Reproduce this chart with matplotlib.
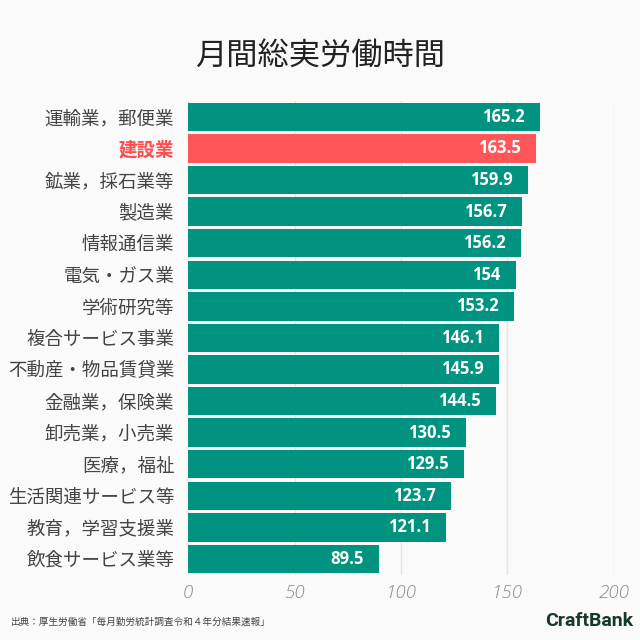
import matplotlib
matplotlib.use("Agg")
import matplotlib.pyplot as plt

plt.rcParams['font.family'] = ['Noto Sans CJK JP', 'DejaVu Sans']

title = "月間総実労働時間"
categories = ["運輸業，郵便業", "建設業", "鉱業，採石業等", "製造業", "情報通信業",
              "電気・ガス業", "学術研究等", "複合サービス事業", "不動産・物品賃貸業",
              "金融業，保険業", "卸売業，小売業", "医療，福祉", "生活関連サービス等",
              "教育，学習支援業", "飲食サービス業等"]
values = [165.2, 163.5, 159.9, 156.7, 156.2, 154, 153.2, 146.1, 145.9,
          144.5, 130.5, 129.5, 123.7, 121.1, 89.5]
highlight = "建設業"
xticks = [0, 50, 100, 150, 200]
source = "出典：厚生労働省「毎月勤労統計調査令和４年分結果速報」"
brand = "CraftBank"

bg = "#fafafa"
teal = "#00937f"
red = "#ff5757"

fig = plt.figure(figsize=(6.4, 6.4), dpi=100, facecolor=bg)
ax = fig.add_axes([0.294, 0.102, 0.665, 0.740], facecolor=bg)

colors = [red if c == highlight else teal for c in categories]
ypos = list(range(len(categories)))
bars = ax.barh(ypos, values, height=0.9, color=colors, zorder=2)

ax.set_xlim(0, 200)
ax.set_ylim(len(categories) - 0.5, -0.5)
ax.set_xticks(xticks)
ax.set_xticklabels([str(t) for t in xticks], family=['Open Sans', 'DejaVu Sans'],
                   style='italic', fontweight='light', fontsize=13.5, color='#8a8a8a')
ax.set_yticks(ypos)
ax.set_yticklabels(categories, fontsize=13.3)
for lbl, c in zip(ax.get_yticklabels(), categories):
    if c == highlight:
        lbl.set_color("#ff4d4d")
        lbl.set_fontweight('bold')
    else:
        lbl.set_color("#444444")
ax.tick_params(axis='both', length=0)
ax.tick_params(axis='y', pad=10)
ax.tick_params(axis='x', pad=7)
for s in ax.spines.values():
    s.set_visible(False)
ax.grid(axis='x', color='#e4e4e4', linewidth=1, zorder=0)
ax.set_axisbelow(True)

for y, v in zip(ypos, values):
    ax.annotate(f"{v:g}", xy=(v, y), xytext=(-11, 0), textcoords='offset points',
                ha='right', va='center', color='white', fontsize=12, fontweight='bold',
                family=['Open Sans', 'DejaVu Sans'], zorder=3)

fig.text(0.5, 0.912, title, ha='center', va='center', fontsize=22.5, color='#222222')
fig.text(0.017, 0.028, source, ha='left', va='center', fontsize=6.9, color='#444444')
fig.text(0.99, 0.03, brand, ha='right', va='center', fontsize=14, fontweight='bold',
         color='#163a28', family=['Roboto', 'DejaVu Sans'])

fig.savefig("out.png", dpi=100, facecolor=bg)
